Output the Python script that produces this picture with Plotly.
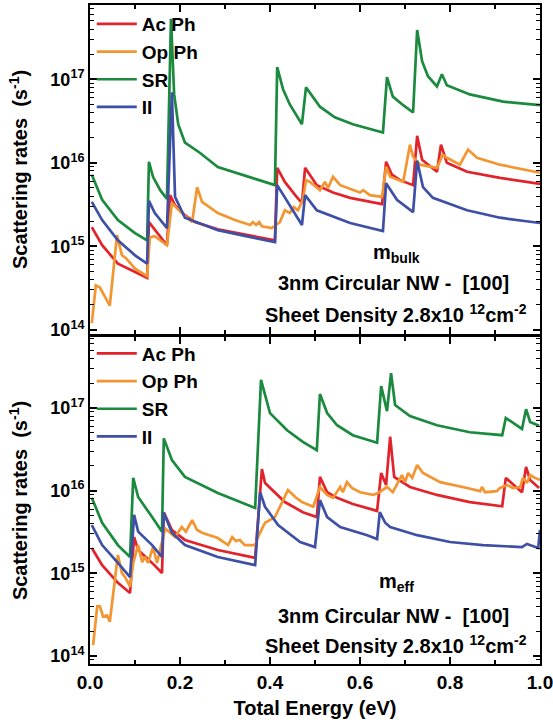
import plotly.graph_objects as go

# ---------------- data ----------------
# Top panel (m_bulk)
top_ac_x = [0.004, 0.027, 0.062, 0.100, 0.127, 0.131, 0.151, 0.171, 0.178, 0.189, 0.211, 0.233, 0.284, 0.360, 0.411,
            0.416, 0.433, 0.456, 0.471, 0.478, 0.504, 0.540, 0.578, 0.649, 0.658, 0.671, 0.689, 0.718, 0.727, 0.738,
            0.771, 0.780, 0.793, 0.838, 0.911, 1.0]
top_ac_y = [1.7e15, 1.03e15, 6.2e14, 4.9e14, 4.2e14, 1.95e15, 1.44e15, 1.03e15, 4.1e15, 3.1e15, 2.36e15, 1.95e15, 1.6e15, 1.32e15, 1.18e15,
            8.7e15, 5.9e15, 4.1e15, 3.3e15, 8.7e15, 5.4e15, 4.4e15, 3.8e15, 3.2e15, 1.03e16, 7.2e15, 6.2e15, 5.4e15, 2.1e16, 1.09e16,
            7.8e15, 1.65e16, 1.0e16, 7.8e15, 6.6e15, 5.6e15]

top_op_x = [0.004, 0.013, 0.022, 0.044, 0.060, 0.071, 0.080, 0.100, 0.127, 0.133, 0.144, 0.171, 0.182, 0.204, 0.227,
            0.238, 0.249, 0.284, 0.322, 0.356, 0.362, 0.369, 0.376, 0.382, 0.404, 0.413, 0.422, 0.433, 0.444, 0.453,
            0.462, 0.473, 0.480, 0.489, 0.511, 0.522, 0.529, 0.540, 0.556, 0.600, 0.607, 0.622, 0.649, 0.658, 0.667,
            0.696, 0.711, 0.718, 0.733, 0.771, 0.784, 0.793, 0.822, 0.840, 0.860, 0.911, 1.0]
top_op_y = [1.2e14, 3.4e14, 3.2e14, 1.95e14, 1.36e15, 7.8e14, 7.2e14, 5.4e14, 4.4e14, 1.28e15, 1.32e15, 1.03e15, 3.3e15, 2.5e15, 1.95e15,
            5.1e15, 3.4e15, 2.5e15, 2.06e15, 1.8e15, 1.95e15, 1.8e15, 1.95e15, 1.74e15, 1.65e15, 1.8e15, 1.95e15, 2.7e15, 2.5e15, 2.95e15,
            2.7e15, 3.6e15, 6.2e15, 5.9e15, 4.7e15, 5.9e15, 5.0e15, 6.8e15, 5.4e15, 4.4e15, 4.7e15, 4.1e15, 3.9e15, 9.0e15, 6.8e15,
            5.9e15, 1.65e16, 1.18e16, 9.5e15, 8.7e15, 1.25e16, 1.15e16, 9.5e15, 1.44e16, 1.15e16, 9.5e15, 7.6e15]

top_sr_x = [0.004, 0.027, 0.062, 0.100, 0.127, 0.131, 0.140, 0.156, 0.171, 0.180, 0.187, 0.196, 0.211, 0.244, 0.284,
            0.322, 0.360, 0.411, 0.416, 0.429, 0.444, 0.471, 0.480, 0.511, 0.544, 0.584, 0.651, 0.660, 0.673, 0.696,
            0.718, 0.727, 0.738, 0.751, 0.771, 0.782, 0.793, 0.844, 0.918, 1.0]
top_sr_y = [7.2e15, 3.6e15, 2.06e15, 1.44e15, 1.18e15, 1.03e16, 6.8e15, 4.7e15, 3.7e15, 5.3e17, 6.6e16, 2.9e16, 1.74e16, 1.32e16, 8.9e15,
            7.6e15, 6.6e15, 5.4e15, 1.4e17, 7.6e16, 5.0e16, 2.9e16, 8.0e16, 4.7e16, 3.5e16, 2.9e16, 2.3e16, 1.06e17, 6.2e16, 4.9e16,
            4.0e16, 3.9e17, 1.65e17, 1.09e17, 8.2e16, 1.15e17, 8.5e16, 6.6e16, 5.4e16, 4.9e16]

top_ii_x = [0.004, 0.027, 0.062, 0.100, 0.127, 0.131, 0.144, 0.171, 0.182, 0.189, 0.211, 0.284, 0.360, 0.411, 0.416,
            0.433, 0.471, 0.478, 0.504, 0.578, 0.651, 0.658, 0.682, 0.718, 0.727, 0.740, 0.762, 0.838, 0.911, 1.0]
top_ii_y = [3.4e15, 2.06e15, 1.18e15, 7.8e14, 6.2e14, 3.5e15, 2.5e15, 1.65e15, 7.0e16, 3.9e15, 2.2e15, 1.56e15, 1.28e15, 1.12e15, 5.4e15,
            3.8e15, 1.8e15, 4.1e15, 2.7e15, 1.9e15, 1.52e15, 5.7e15, 3.6e15, 2.57e15, 1.06e16, 5.1e15, 3.8e15, 2.7e15, 2.2e15, 1.9e15]

# Bottom panel (m_eff)
bot_ac_x = [0.004, 0.027, 0.062, 0.089, 0.098, 0.107, 0.138, 0.160, 0.164, 0.182, 0.211, 0.284, 0.367, 0.382, 0.389,
            0.433, 0.473, 0.504, 0.511, 0.527, 0.549, 0.584, 0.638, 0.647, 0.658, 0.667, 0.676, 0.711, 0.771, 0.844,
            0.916, 0.924, 0.960, 0.969, 0.978, 0.998]
bot_ac_y = [2.03e15, 1.26e15, 7.7e14, 5.8e14, 2.75e15, 1.92e15, 1.34e15, 1.01e15, 5.5e15, 3.35e15, 2.54e15, 1.92e15, 1.54e15, 1.83e16, 1.24e16,
            7.3e15, 5.5e15, 4.8e15, 1.47e16, 9.6e15, 8.2e15, 6.9e15, 5.7e15, 1.64e16, 1.17e16, 4.5e16, 1.47e16, 1.11e16, 8.9e15, 7.3e15,
            6.5e15, 1.43e16, 9.6e15, 1.94e16, 1.35e16, 1.08e16]

bot_op_x = [0.007, 0.016, 0.022, 0.029, 0.038, 0.044, 0.062, 0.071, 0.078, 0.089, 0.096, 0.107, 0.116, 0.122, 0.129,
            0.140, 0.149, 0.160, 0.167, 0.178, 0.189, 0.204, 0.213, 0.227, 0.238, 0.249, 0.284, 0.307, 0.316, 0.324,
            0.333, 0.344, 0.367, 0.373, 0.389, 0.411, 0.427, 0.440, 0.456, 0.471, 0.496, 0.511, 0.527, 0.540, 0.556,
            0.562, 0.571, 0.582, 0.600, 0.629, 0.640, 0.651, 0.660, 0.673, 0.684, 0.693, 0.700, 0.707, 0.716, 0.727,
            0.740, 0.778, 0.838, 0.867, 0.871, 0.878, 0.904, 0.911, 0.927, 0.940, 0.956, 0.962, 0.971, 0.978, 0.989, 1.0]
bot_op_y = [1.36e14, 4.0e14, 4.0e14, 3.0e14, 3.1e14, 2.6e14, 1.67e15, 1.01e15, 9.0e14, 6.9e14, 1.34e15, 2.2e15, 1.37e15, 1.58e15, 1.34e15,
            2.08e15, 1.34e15, 2.54e15, 3.5e15, 3.1e15, 2.75e15, 3.64e15, 3.2e15, 4.4e15, 3.35e15, 3.1e15, 2.68e15, 2.2e15, 2.75e15, 2.47e15,
            2.54e15, 2.2e15, 2.2e15, 2.75e15, 4.1e15, 4.8e15, 7.1e15, 1.02e16, 8.4e15, 7.3e15, 6.4e15, 1.11e16, 8.9e15, 8.2e15, 1.11e16,
            9.6e15, 1.27e16, 1.08e16, 9.6e15, 8.9e15, 9.4e15, 1.02e16, 1.11e16, 9.6e15, 1.27e16, 1.55e16, 1.27e16, 1.64e16, 1.43e16, 2.05e16,
            1.64e16, 1.27e16, 1.08e16, 9.9e15, 1.11e16, 9.6e15, 9.9e15, 1.08e16, 1.17e16, 1.08e16, 1.11e16, 1.43e16, 1.24e16, 1.55e16, 1.43e16, 1.35e16]

bot_sr_x = [0.004, 0.027, 0.062, 0.089, 0.096, 0.107, 0.138, 0.160, 0.164, 0.182, 0.211, 0.284, 0.367, 0.380, 0.400,
            0.438, 0.473, 0.504, 0.511, 0.527, 0.549, 0.584, 0.638, 0.647, 0.660, 0.669, 0.678, 0.711, 0.771, 0.844,
            0.916, 0.924, 0.960, 0.969, 0.978, 0.998]
bot_sr_y = [8.2e15, 4.1e15, 2.2e15, 1.58e15, 1.43e16, 8.4e15, 4.8e15, 3.2e15, 4.3e16, 2.35e16, 1.47e16, 9.4e15, 6.2e15, 2.2e17, 8.7e16,
            5.4e16, 3.9e16, 3.1e16, 1.48e17, 8.7e16, 6.2e16, 4.7e16, 3.8e16, 1.85e17, 9.2e16, 2.65e17, 1.09e17, 8.0e16, 6.2e16, 5.1e16,
            4.7e16, 7.6e16, 5.6e16, 9.7e16, 6.8e16, 6.1e16]

bot_ii_x = [0.004, 0.027, 0.062, 0.089, 0.098, 0.107, 0.138, 0.160, 0.164, 0.182, 0.211, 0.284, 0.367, 0.378, 0.389,
            0.418, 0.467, 0.500, 0.511, 0.527, 0.556, 0.616, 0.638, 0.644, 0.656, 0.667, 0.727, 0.800, 0.873, 0.960,
            0.971, 0.996, 1.0]
bot_ii_y = [3.85e15, 2.2e15, 1.34e15, 9.0e14, 5.1e15, 3.2e15, 2.2e15, 1.58e15, 5.4e15, 3.1e15, 2.2e15, 1.58e15, 1.26e15, 9.6e15, 6.4e15,
            3.85e15, 2.4e15, 2.08e15, 7.7e15, 4.8e15, 3.64e15, 2.9e15, 2.6e15, 5.5e15, 4.1e15, 3.64e15, 2.9e15, 2.4e15, 2.2e15, 2.08e15,
            2.27e15, 2.03e15, 3.35e15]

series_names = ["Ac Ph", "Op Ph", "SR", "II"]
series_colors = ["#E3232B", "#F39530", "#1B8A3E", "#3E50A6"]

y_tick_vals = [1e14, 1e15, 1e16, 1e17]
y_tick_text = ["10<sup>14</sup>", "10<sup>15</sup>", "10<sup>16</sup>", "10<sup>17</sup>"]
x_tick_vals = [0.0, 0.2, 0.4, 0.6, 0.8, 1.0]
x_tick_text = ["0.0", "0.2", "0.4", "0.6", "0.8", "1.0"]

# ---------------- figure ----------------
FONT = "Liberation Sans, Arial, sans-serif"
fig = go.Figure()

top = [(top_ac_x, top_ac_y), (top_op_x, top_op_y), (top_sr_x, top_sr_y), (top_ii_x, top_ii_y)]
bot = [(bot_ac_x, bot_ac_y), (bot_op_x, bot_op_y), (bot_sr_x, bot_sr_y), (bot_ii_x, bot_ii_y)]

for (xs, ys), name, col in zip(top, series_names, series_colors):
    fig.add_trace(go.Scatter(x=xs, y=ys, mode="lines", name=name, line=dict(color=col, width=2.7),
                             xaxis="x", yaxis="y", legend="legend"))
for (xs, ys), name, col in zip(bot, series_names, series_colors):
    fig.add_trace(go.Scatter(x=xs, y=ys, mode="lines", name=name, line=dict(color=col, width=2.7),
                             xaxis="x2", yaxis="y2", legend="legend2"))

minor_y = [m * 10 ** e for e in range(13, 18) for m in range(2, 10)]

def xaxis(show_labels, anchor, title=None):
    d = dict(range=[0, 1], anchor=anchor, showline=True, linecolor="black", linewidth=2,
             mirror="allticks", ticks="inside", ticklen=7, tickwidth=1.5, tickcolor="black",
             tickvals=x_tick_vals, ticktext=x_tick_text, showticklabels=show_labels,
             ticklabeloverflow="allow",
             minor=dict(tickvals=[0.1, 0.3, 0.5, 0.7, 0.9], ticks="inside", ticklen=4, tickwidth=1.5, tickcolor="black"),
             showgrid=False, zeroline=False,
             tickfont=dict(family=FONT, size=19, color="black", weight="bold"))
    if title:
        d["title"] = dict(text=title, font=dict(family=FONT, size=20, color="black", weight="bold"), standoff=9)
    return d

def yaxis(rng, domain, anchor):
    return dict(type="log", range=rng, domain=domain, anchor=anchor, showline=True, linecolor="black", linewidth=2,
                mirror="allticks", ticks="inside", ticklen=7, tickwidth=1.5, tickcolor="black",
                tickvals=y_tick_vals, ticktext=y_tick_text, ticklabeloverflow="allow",
                minor=dict(tickvals=minor_y, ticks="inside", ticklen=4, tickwidth=1.2, tickcolor="black"),
                showgrid=False, zeroline=False,
                tickfont=dict(family=FONT, size=18, color="black", weight="bold"),
                title=dict(text="Scattering rates  (s<sup>-1</sup>)",
                           font=dict(family=FONT, size=20, color="black", weight="bold"), standoff=17))

fig.update_layout(
    width=553, height=725,
    margin=dict(l=90, r=13, t=5, b=61, autoexpand=False),
    paper_bgcolor="white", plot_bgcolor="white",
    xaxis=xaxis(False, "y"),
    yaxis=yaxis([13.95, 17.89], [0.5008, 1.0], "x"),
    xaxis2=xaxis(True, "y2", "Total Energy (eV)"),
    yaxis2=yaxis([13.904, 17.86], [0.0, 0.4962], "x2"),
    legend=dict(x=0.004, y=1.0, xanchor="left", yanchor="top", bgcolor="rgba(0,0,0,0)",
                font=dict(family=FONT, size=19, color="black", weight="bold"), itemwidth=40, tracegroupgap=0),
    legend2=dict(x=0.004, y=0.5, xanchor="left", yanchor="top", bgcolor="rgba(0,0,0,0)",
                 font=dict(family=FONT, size=19, color="black", weight="bold"), itemwidth=40, tracegroupgap=0),
)

ann_font = dict(family=FONT, size=20, color="black", weight="bold")
texts = [
    ("m<sub>bulk</sub>", 0.68, 0.623),
    ("3nm Circular NW -  [100]", 0.675, 0.578),
    ("Sheet Density 2.8x10 <sup>12</sup>cm<sup>-2</sup>", 0.68, 0.532),
    ("m<sub>eff</sub>", 0.68, 0.124),
    ("3nm Circular NW -  [100]", 0.675, 0.0728),
    ("Sheet Density 2.8x10 <sup>12</sup>cm<sup>-2</sup>", 0.68, 0.029),
]
for t, x, y in texts:
    fig.add_annotation(text=t, x=x, y=y, xref="paper", yref="paper", showarrow=False,
                       xanchor="center", yanchor="middle", font=ann_font)

fig.write_html("out.html", config={"displayModeBar": False},
               post_script="document.body.style.margin='0px';")
